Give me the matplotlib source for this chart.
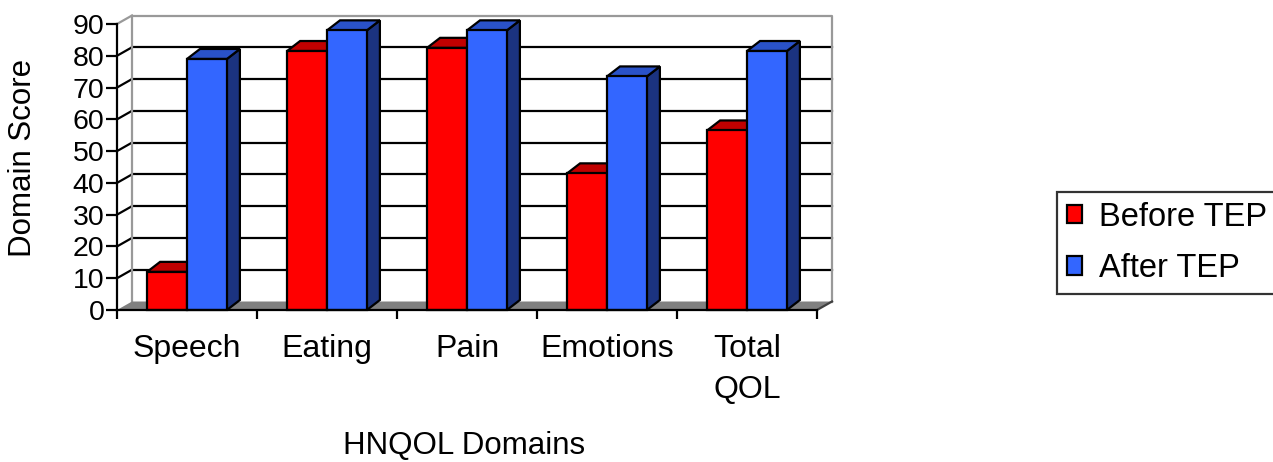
import numpy as np
import matplotlib
matplotlib.use('Agg')
import matplotlib.pyplot as plt
from matplotlib.patches import Polygon, Patch

plt.rcParams['font.family'] = ['Liberation Sans', 'DejaVu Sans']

# data
domains = ['Speech', 'Eating', 'Pain', 'Emotions', 'Total\nQOL']
before_tep = [12, 81.5, 82.5, 43, 56.5]
after_tep = [79, 88, 88, 73.5, 81.5]
series_names = ['Before TEP', 'After TEP']
yticks = list(range(0, 91, 10))

# colours: front, top, side
RED = ('#ff0000', '#c00000', '#900000')
BLUE = ('#3366ff', '#2a52c8', '#1b3380')
GRAY = '#808080'

W, H = 1273, 462
fig = plt.figure(figsize=(W / 100, H / 100), dpi=100)
# front plane of the plot area, in pixels: x 117..817, y 310..24
ax = fig.add_axes([117 / W, (H - 310) / H, 700 / W, 286 / H])
ax.set_xlim(-0.5, 4.5)
ax.set_ylim(0, 90)

pxx = 700 / 5.0      # pixels per category
pxy = 286 / 90.0     # pixels per unit
DXW, DYW = 15 / pxx, 8.5 / pxy   # wall depth
DXB, DYB = 13 / pxx, 10 / pxy    # bar depth
lw = 1.6

# back wall, grid and side wall
x0w, x1w = -0.5 + DXW, 4.5 + DXW
for v in yticks[1:-1]:
    ax.plot([x0w, x1w], [v + DYW, v + DYW], color='black', lw=lw, zorder=1, clip_on=False)
    ax.plot([-0.5, x0w], [v, v + DYW], color='black', lw=lw, zorder=1, clip_on=False)
ax.plot([-0.5, x0w], [90, 90 + DYW], color='#999999', lw=lw, zorder=1, clip_on=False)
ax.plot([x0w, x1w, x1w], [90 + DYW, 90 + DYW, DYW], color='#999999', lw=lw, zorder=1, clip_on=False)
ax.plot([x0w, x0w], [DYW, 90 + DYW], color='#999999', lw=lw, zorder=1, clip_on=False)

# floor
floor = Polygon([(-0.5, 0), (4.5, 0), (x1w, DYW), (x0w, DYW)], closed=True,
                facecolor=GRAY, edgecolor='none', zorder=2, clip_on=False)
ax.add_patch(floor)
ax.plot([4.5, x1w], [0, DYW], color='#404040', lw=lw, zorder=2, clip_on=False)

# bars
w = 0.285
x = np.arange(len(domains))
z = 3
for j, (vals, cols) in enumerate([(before_tep, RED), (after_tep, BLUE)]):
    for i, h in enumerate(vals):
        xa = x[i] - w + j * w
        xb = xa + w
        side = Polygon([(xb, 0), (xb, h), (xb + DXB, h + DYB), (xb + DXB, DYB)], closed=True,
                       facecolor=cols[2], edgecolor='black', lw=lw, zorder=z + 2 * j, clip_on=False)
        top = Polygon([(xa, h), (xb, h), (xb + DXB, h + DYB), (xa + DXB, h + DYB)], closed=True,
                      facecolor=cols[1], edgecolor='black', lw=lw, zorder=z + 2 * j, clip_on=False)
        ax.add_patch(side)
        ax.add_patch(top)
    ax.bar(x - w + j * w, vals, width=w, align='edge', color=cols[0], edgecolor='black',
           linewidth=lw, zorder=z + 2 * j + 1, clip_on=False)

# axes styling
for s in ['top', 'right']:
    ax.spines[s].set_visible(False)
for s in ['left', 'bottom']:
    ax.spines[s].set_linewidth(lw)
    ax.spines[s].set_zorder(10)
ax.set_yticks(yticks)
ax.tick_params(axis='y', labelsize=20.5, length=8, width=lw, pad=1, direction='out')
ax.set_xticks(np.arange(-0.5, 4.6, 1.0))
ax.set_xticklabels([])
ax.set_xticks(x, minor=True)
ax.set_xticklabels(domains, minor=True, fontsize=23)
ax.tick_params(axis='x', which='major', length=6.5, width=lw, direction='out')
ax.tick_params(axis='x', which='minor', length=0, pad=17)
for t in ax.get_xticklabels(minor=True):
    t.set_linespacing(1.5)

xl = ax.set_xlabel('HNQOL Domains', fontsize=22.5, va='bottom')
ax.xaxis.set_label_coords((464 - 117) / 700, (310 - 461) / 286)
fig.text(23 / W, 1 - 158 / H, 'Domain Score', fontsize=22.5, rotation=90, ha='center', va='center')

handles = [Patch(facecolor=RED[0], edgecolor='black', lw=lw),
           Patch(facecolor=BLUE[0], edgecolor='black', lw=lw)]
leg = fig.legend(handles, series_names, loc='upper left', bbox_to_anchor=(1057 / W, 1 - 192 / H),
                 borderaxespad=0, fontsize=23.5, frameon=True, fancybox=False, shadow=False,
                 handlelength=0.48, handleheight=0.48, handletextpad=0.5, borderpad=0.3,
                 labelspacing=0.62)
leg.get_frame().set_edgecolor('black')
leg.get_frame().set_linewidth(lw)

fig.savefig('out.png', dpi=100)
